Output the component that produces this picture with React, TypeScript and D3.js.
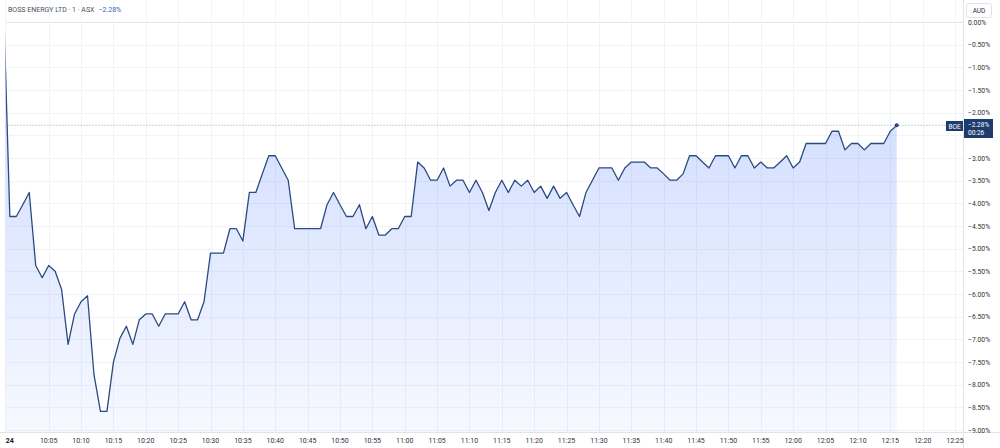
import React from "react";
import * as d3 from "d3";

// ---- data (percent change vs previous close, one value per 1-minute bar) ----
const SESSION_DATE = "2024-01-24";
const FIRST_BAR_TIME = "09:58"; // lead-in bar (off the left edge), then the day's first bar
const pctChange: number[] = [
  0.55, -4.29, -4.29, -4.03, -3.76, -5.37, -5.64, -5.37, -5.5, -5.9,
  -7.11, -6.44, -6.17, -6.04, -7.78, -8.59, -8.59, -7.51, -6.98, -6.71,
  -7.11, -6.57, -6.44, -6.44, -6.71, -6.44, -6.44, -6.44, -6.17, -6.57,
  -6.57, -6.17, -5.1, -5.1, -5.1, -4.56, -4.56, -4.83, -3.76, -3.76,
  -3.35, -2.95, -2.95, -3.22, -3.49, -4.56, -4.56, -4.56, -4.56, -4.56,
  -4.03, -3.76, -4.03, -4.29, -4.29, -4.03, -4.56, -4.29, -4.7, -4.7,
  -4.56, -4.56, -4.29, -4.29, -3.09, -3.22, -3.49, -3.49, -3.22, -3.62,
  -3.49, -3.49, -3.76, -3.49, -3.76, -4.16, -3.76, -3.49, -3.76, -3.49,
  -3.62, -3.49, -3.76, -3.62, -3.89, -3.62, -3.89, -3.76, -4.03, -4.29,
  -3.76, -3.49, -3.22, -3.22, -3.22, -3.49, -3.22, -3.09, -3.09, -3.09,
  -3.22, -3.22, -3.35, -3.49, -3.49, -3.35, -2.95, -2.95, -3.09, -3.22,
  -2.95, -2.95, -2.95, -3.22, -2.95, -2.95, -3.22, -3.09, -3.22, -3.22,
  -3.09, -2.95, -3.22, -3.09, -2.68, -2.68, -2.68, -2.68, -2.41, -2.41,
  -2.82, -2.68, -2.68, -2.82, -2.68, -2.68, -2.68, -2.41, -2.28,
];
const DAY_LABEL = "24";
const DAY_LABEL_TIME = "09:59";
const timeTickLabels = [
  "10:05", "10:10", "10:15", "10:20", "10:25", "10:30", "10:35", "10:40", "10:45",
  "10:50", "10:55", "11:00", "11:05", "11:10", "11:15", "11:20", "11:25", "11:30",
  "11:35", "11:40", "11:45", "11:50", "11:55", "12:00", "12:05", "12:10", "12:15",
  "12:20", "12:25",
];
const yTickValues = [0, -0.5, -1, -1.5, -2, -2.5, -3, -3.5, -4, -4.5, -5, -5.5, -6, -6.5, -7, -7.5, -8, -8.5, -9];
const TITLE = "BOSS ENERGY LTD · 1 · ASX";
const SYMBOL = "BOE";
const LAST_CHANGE_TEXT = "−2.28%";
const COUNTDOWN = "00:26";
const CURRENCY = "AUD";

const parse = (hm: string) => new Date(`${SESSION_DATE}T${hm}:00`);
const start = parse(FIRST_BAR_TIME);
const points = pctChange.map((v, i) => ({ t: d3.timeMinute.offset(start, i), v }));

const W = 1000;
const H = 448;
const plotLeft = 5.5;
const plotRight = 963;
const plotBottom = 432;

const x = d3.scaleTime().domain([parse("10:00"), parse("12:25")]).range([16.3, 955]);
const y = d3.scaleLinear().domain([0, -9]).range([22, 430]);

const fmtPct = (v: number) => (v === 0 ? "0.00%" : (v < 0 ? "−" : "") + Math.abs(v).toFixed(2) + "%");

export default function App() {
  const line = d3.line<any>().x((d) => x(d.t)).y((d) => y(d.v));
  const area = d3.area<any>().x((d) => x(d.t)).y0(plotBottom).y1((d) => y(d.v));
  const last = points[points.length - 1];
  const lastY = y(last.v);
  const font = "Roboto, 'Liberation Sans', Arial, sans-serif";
  const boxTop = 119;
  const boxH = 19;
  // axis labels hidden behind the last-value box
  const visibleTicks = yTickValues.filter((v) => {
    const yy = y(v);
    return yy + 3 < boxTop || yy - 3 > boxTop + boxH;
  });

  return (
    <svg width={W} height={H} style={{ position: "absolute", left: 0, top: 0, background: "#fff" }} fontFamily={font}>
      <defs>
        <linearGradient id="areaGrad" gradientUnits="userSpaceOnUse" x1="0" y1={y(-2.2)} x2="0" y2={plotBottom}>
          <stop offset="0" stopColor="rgb(41,98,255)" stopOpacity={0.2} />
          <stop offset="1" stopColor="rgb(41,98,255)" stopOpacity={0.04} />
        </linearGradient>
        <clipPath id="plotClip">
          <rect x={plotLeft} y={0} width={plotRight - plotLeft} height={plotBottom} />
        </clipPath>
      </defs>

      {/* grid */}
      <g stroke="#f2f3f6" strokeWidth={1}>
        {yTickValues.map((v) => (
          <line key={"h" + v} x1={plotLeft} x2={plotRight} y1={Math.round(y(v)) + 0.5} y2={Math.round(y(v)) + 0.5}
            stroke={v === 0 ? "#e3e5ea" : "#f2f3f6"} />
        ))}
        {timeTickLabels.map((s) => (
          <line key={"v" + s} x1={Math.round(x(parse(s))) + 0.5} x2={Math.round(x(parse(s))) + 0.5} y1={0} y2={plotBottom} />
        ))}
        <line x1={5.5} x2={5.5} y1={0} y2={plotBottom} />
      </g>

      {/* series */}
      <g clipPath="url(#plotClip)">
        <path d={area(points) || ""} fill="url(#areaGrad)" />
        <path d={line(points) || ""} fill="none" stroke="#2a4a80" strokeWidth={1.3} strokeLinejoin="round" />
      </g>
      <circle cx={x(last.t)} cy={lastY} r={2} fill="#1f3c70" />

      {/* last price line */}
      <line x1={plotLeft} x2={946} y1={lastY} y2={lastY} stroke="#7d98c6" strokeWidth={0.8} strokeDasharray="1 2" />

      {/* axes borders */}
      <line x1={plotRight + 0.5} x2={plotRight + 0.5} y1={0} y2={H} stroke="#e0e3eb" />
      <line x1={0} x2={W} y1={plotBottom + 0.5} y2={plotBottom + 0.5} stroke="#e0e3eb" />

      {/* title */}
      <text x={8} y={12} fontSize={7} fill="#4a4f5c">
        {TITLE}
        <tspan dx={4} fill="#3a5fb0">{LAST_CHANGE_TEXT}</tspan>
      </text>

      {/* right axis */}
      <rect x={966.5} y={3.5} width={25} height={14} rx={2} fill="#fff" stroke="#e0e3eb" />
      <text x={979} y={13} fontSize={6.5} textAnchor="middle" fill="#333">{CURRENCY}</text>
      {visibleTicks.map((v) => (
        <text key={"yl" + v} x={968} y={y(v) + 2.5} fontSize={6.8} fill="#333">{fmtPct(v)}</text>
      ))}

      {/* last value labels */}
      <rect x={946} y={121} width={17} height={10} fill="#1e3b6e" />
      <text x={954.5} y={128.5} fontSize={6.5} textAnchor="middle" fill="#fff">{SYMBOL}</text>
      <rect x={964} y={boxTop} width={29} height={boxH} fill="#1e3b6e" />
      <text x={968} y={127} fontSize={6.5} fill="#fff">{LAST_CHANGE_TEXT}</text>
      <text x={968} y={135.3} fontSize={6.5} fill="#fff">{COUNTDOWN}</text>

      {/* bottom axis */}
      <text x={x(parse(DAY_LABEL_TIME))} y={443} fontSize={7} fontWeight="bold" textAnchor="middle" fill="#131722">{DAY_LABEL}</text>
      {timeTickLabels.map((s) => (
        <text key={"xl" + s} x={x(parse(s))} y={443} fontSize={7} textAnchor="middle" fill="#333">{s}</text>
      ))}
    </svg>
  );
}
